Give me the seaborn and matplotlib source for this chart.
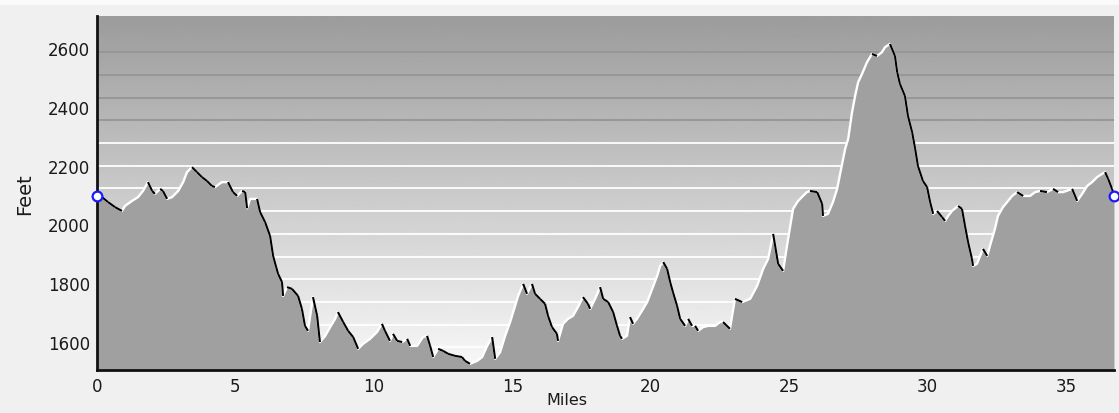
import numpy as np
import pandas as pd
import matplotlib
matplotlib.use("Agg")
import matplotlib.pyplot as plt
from matplotlib.collections import LineCollection
from matplotlib.patches import Rectangle
import seaborn as sns

# =============================================================================
# 데이터: 거리(마일)와 고도(피트) - 그림에서 읽은 값
# =============================================================================
miles = [0.00, 0.18, 0.40, 0.65, 0.90, 1.01, 1.26, 1.48, 1.66, 1.84,
         1.99, 2.09, 2.28, 2.38, 2.53, 2.71, 2.93, 3.11, 3.25, 3.43,
         3.61, 3.79, 3.97, 4.15, 4.26, 4.51, 4.73, 4.91, 5.06, 5.24,
         5.35, 5.42, 5.53, 5.78, 5.89, 6.07, 6.25, 6.36, 6.47, 6.54,
         6.68, 6.72, 6.86, 7.04, 7.26, 7.40, 7.51, 7.62, 7.80, 7.95,
         8.05, 8.24, 8.42, 8.60, 8.70, 8.89, 9.07, 9.25, 9.43, 9.61,
         9.86, 10.11, 10.29, 10.40, 10.58, 10.69, 10.84, 11.02, 11.20, 11.31,
         11.56, 11.77, 11.92, 12.03, 12.14, 12.32, 12.50, 12.68, 12.93, 13.18,
         13.29, 13.47, 13.73, 13.91, 14.09, 14.27, 14.38, 14.56, 14.74, 14.92,
         15.10, 15.21, 15.39, 15.53, 15.71, 15.82, 16.00, 16.18, 16.29, 16.43,
         16.61, 16.65, 16.83, 17.01, 17.19, 17.37, 17.55, 17.73, 17.81, 17.99,
         18.17, 18.28, 18.46, 18.64, 18.78, 18.89, 18.96, 19.14, 19.25, 19.36,
         19.50, 19.68, 19.87, 20.05, 20.23, 20.34, 20.45, 20.59, 20.70, 20.80,
         20.95, 21.06, 21.24, 21.35, 21.49, 21.60, 21.71, 21.89, 22.07, 22.32,
         22.50, 22.61, 22.86, 23.04, 23.30, 23.59, 23.84, 24.06, 24.24, 24.42,
         24.60, 24.78, 24.96, 25.14, 25.32, 25.64, 25.75, 26.01, 26.19, 26.22,
         26.40, 26.58, 26.73, 26.91, 27.02, 27.13, 27.27, 27.38, 27.49, 27.63,
         27.81, 27.99, 28.17, 28.35, 28.46, 28.64, 28.82, 28.90, 29.00, 29.18,
         29.29, 29.44, 29.55, 29.65, 29.83, 29.98, 30.09, 30.20, 30.34, 30.52,
         30.63, 30.74, 30.88, 31.10, 31.24, 31.35, 31.46, 31.60, 31.64, 31.78,
         32.00, 32.15, 32.25, 32.43, 32.54, 32.72, 32.87, 33.05, 33.23, 33.45,
         33.70, 33.88, 34.06, 34.31, 34.53, 34.71, 34.89, 35.22, 35.40, 35.58,
         35.76, 35.94, 36.12, 36.30, 36.41, 36.52, 36.66, 36.73]
feet = [2097, 2093, 2076, 2059, 2046, 2063, 2080, 2093, 2114, 2144,
        2114, 2104, 2121, 2114, 2087, 2093, 2114, 2144, 2178, 2195,
        2178, 2161, 2148, 2131, 2127, 2144, 2144, 2110, 2097, 2114,
        2110, 2055, 2087, 2087, 2042, 2008, 1961, 1893, 1855, 1832,
        1804, 1757, 1787, 1781, 1757, 1713, 1655, 1638, 1753, 1689,
        1600, 1621, 1651, 1679, 1702, 1668, 1638, 1617, 1577, 1594,
        1611, 1634, 1662, 1638, 1604, 1628, 1604, 1600, 1611, 1587,
        1587, 1617, 1621, 1587, 1549, 1577, 1570, 1560, 1553, 1549,
        1536, 1526, 1536, 1549, 1587, 1617, 1543, 1566, 1621, 1668,
        1723, 1757, 1798, 1764, 1798, 1764, 1747, 1730, 1689, 1651,
        1628, 1604, 1662, 1679, 1689, 1719, 1753, 1730, 1713, 1747,
        1787, 1747, 1736, 1702, 1655, 1621, 1611, 1621, 1685, 1662,
        1679, 1706, 1736, 1781, 1825, 1859, 1872, 1849, 1804, 1770,
        1723, 1679, 1655, 1679, 1655, 1655, 1638, 1651, 1655, 1655,
        1668, 1668, 1645, 1747, 1736, 1747, 1791, 1849, 1883, 1968,
        1866, 1842, 1951, 2053, 2080, 2110, 2114, 2110, 2070, 2029,
        2036, 2076, 2121, 2206, 2257, 2291, 2382, 2437, 2484, 2512,
        2552, 2580, 2573, 2586, 2603, 2614, 2573, 2518, 2478, 2437,
        2369, 2314, 2257, 2199, 2148, 2127, 2076, 2036, 2046, 2025,
        2012, 2029, 2046, 2063, 2053, 1995, 1940, 1883, 1859, 1866,
        1917, 1893, 1927, 1985, 2029, 2059, 2076, 2097, 2110, 2097,
        2097, 2110, 2114, 2110, 2121, 2110, 2110, 2121, 2080, 2104,
        2131, 2144, 2161, 2172, 2178, 2155, 2121, 2097]

x_ticks = [0, 5, 10, 15, 20, 25, 30, 35]
y_ticks = [1600, 1800, 2000, 2200, 2400, 2600]

df = pd.DataFrame({'Miles': miles, 'Feet': feet})

# =============================================================================
# 그림 그리기
# =============================================================================
sns.set_style("white")
plt.rcParams['font.family'] = ['DejaVu Sans']

fig = plt.figure(figsize=(11.19, 4.14), dpi=100, facecolor='#f0f0f0')
fig.add_artist(Rectangle((0, 0.988), 1, 0.012, transform=fig.transFigure,
                         color='#fafafa', zorder=-5))
ax = fig.add_axes([0.0867, 0.1039, 0.9088, 0.855])

x_max = miles[-1]
y_lo, y_hi = 1505, 2709
ax.set_xlim(0, x_max)
ax.set_ylim(y_lo, y_hi)

# 배경 그라데이션 (위쪽 어둡고 아래쪽 밝음)
grad = np.linspace(0.975, 0.61, 256)[:, None]
ax.imshow(grad, extent=(0, 1, 0, 1), origin='lower', transform=ax.transAxes,
          cmap='gray', vmin=0, vmax=1, aspect='auto', zorder=0,
          interpolation='bilinear')

# 가로 줄무늬
for k in range(1, 15):
    c = 'white' if k <= 10 else '#959595'
    ax.axhline(y_lo + (y_hi - y_lo) * k * 0.0641, color=c, lw=1.3, zorder=1)

# 고도 영역
ax.fill_between(df['Miles'], y_lo - 50, df['Feet'], color='#a0a0a0', zorder=2, lw=0)

# 윤곽선: 오르막은 흰색, 내리막은 검은색
sns.lineplot(data=df, x='Miles', y='Feet', ax=ax, color='white', lw=1.7,
             zorder=3, sort=False)
pts = df[['Miles', 'Feet']].to_numpy()
segs = [pts[i:i + 2] for i in range(len(pts) - 1) if pts[i + 1, 1] < pts[i, 1]]
ax.add_collection(LineCollection(segs, colors='black', linewidths=1.5, zorder=4))

# 시작/끝 표시
ax.plot([miles[0], miles[-1]], [feet[0], feet[-1]], ls='none', marker='o', ms=7,
        mfc='white', mec='#1a1aff', mew=1.6, zorder=6, clip_on=False)

ax.set_xticks(x_ticks)
ax.set_yticks(y_ticks)
ax.tick_params(axis='both', length=0, labelsize=12, colors='#1a1a1a', pad=5)
ax.set_xlabel('Miles', fontsize=11.5, color='#1a1a1a')
ax.set_ylabel('Feet', fontsize=14, color='#1a1a1a')
ax.xaxis.set_label_coords(0.462, -0.062)
ax.yaxis.set_label_coords(-0.062, 0.5)

for s in ['top', 'right']:
    ax.spines[s].set_visible(False)
for s in ['left', 'bottom']:
    ax.spines[s].set_color('#111111')
    ax.spines[s].set_linewidth(2)
    ax.spines[s].set_zorder(5)

plt.savefig('out.png', dpi=100, facecolor=fig.get_facecolor())
